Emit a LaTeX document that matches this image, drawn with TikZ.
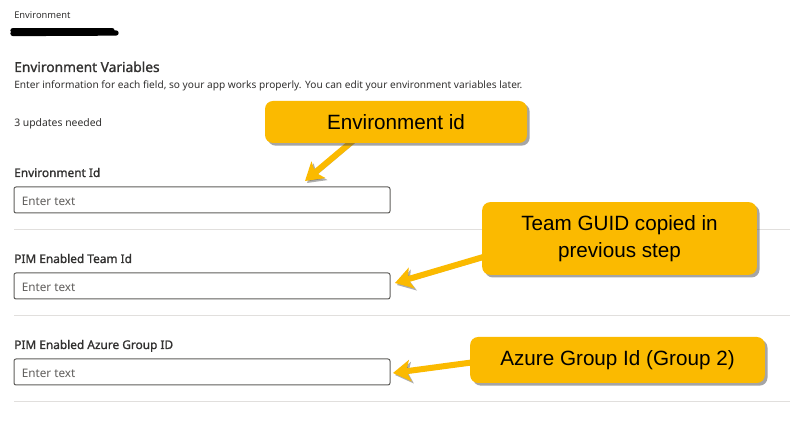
\documentclass[tikz,border=0pt]{standalone}
\usepackage{fontspec}
\setmainfont{Noto Sans}
\newfontfamily\semifont[FakeBold=1.2]{Noto Sans}
\newfontfamily\calloutfont{Liberation Sans}
\usetikzlibrary{positioning,arrows.meta,shadows}
\pgfdeclarelayer{background}
\pgfsetlayers{background,main}

\definecolor{uitext}{HTML}{323130}
\definecolor{uihint}{HTML}{605E5C}
\definecolor{uiborder}{HTML}{605E5C}
\definecolor{uirule}{HTML}{E1DFDD}
\definecolor{calloutfill}{HTML}{FBBA00}

\tikzset{
  uilabel/.style={anchor=base west,inner sep=0pt,text=uitext,font=\fontsize{7.6}{9}\selectfont},
  fieldlabel/.style={uilabel,font=\semifont\fontsize{8.9}{10}\selectfont},
  inputbox/.style={draw=uiborder,line width=0.75pt,rounded corners=1.5pt,minimum width=282pt,minimum height=19.5pt,inner sep=0pt},
  hint/.style={anchor=west,inner sep=0pt,text=uihint,font=\fontsize{8.8}{10}\selectfont},
  callout/.style={fill=calloutfill,rounded corners=6pt,inner sep=0pt,align=center,
    font=\calloutfont\fontsize{15.5}{20}\selectfont,
    drop shadow={shadow xshift=2pt,shadow yshift=-2pt,fill=black!70,opacity=.5}},
  pointer/.style={draw=calloutfill,line width=4.5pt,line cap=round,
    -{Stealth[width=16pt,length=13pt,inset=3pt]},
    preaction={draw=black!70,opacity=.45,transform canvas={shift={(1.5pt,-1.5pt)}},
      -{Stealth[width=16pt,length=13pt,inset=3pt]}}}
}

\begin{document}
\begin{tikzpicture}[x=0.75pt,y=-0.75pt]
\begin{pgfonlayer}{background}
\fill[white] (0,0) rectangle (790,448);
\end{pgfonlayer}
\useasboundingbox (0,0) rectangle (790,448);
% header
\node[uilabel,font=\fontsize{7}{8}\selectfont] (envhead) at (14,19) {Environment};
\draw[line width=4pt,line cap=round] (13,30.5) -- (112,30.5);
\draw[line width=4pt,line cap=round] (13,33.5) -- (116,33);
\node[uilabel,font=\semifont\fontsize{10.3}{12}\selectfont] (vartitle) at (14,72) {Environment Variables};
\node[uilabel] (vardesc) at (14,89) {Enter information for each field, so your app works properly. You can edit your environment variables later.};
\node[uilabel,font=\fontsize{7.8}{9}\selectfont] (updates) at (14,127) {3 updates needed};
% fields
\foreach \y/\txt/\n in {173/Environment Id/envbox,259/PIM Enabled Team Id/teambox,345/PIM Enabled Azure Group ID/groupbox}{
  \node[fieldlabel] (\n lbl) at (14,\y+4) {\txt};
  \node[inputbox] (\n) at (202,\y+27) {};
  \node[hint] (\n hint) at ([xshift=6pt,yshift=-1pt]\n.west) {Enter text};
  \draw[uirule,line width=0.75pt] (14,\y+57) -- (790,\y+57);
}
% callouts
\node[callout,minimum width=196.5pt,minimum height=31.5pt] (envcall) at (396,122) {Environment id};
\node[callout,minimum width=206pt,minimum height=54.5pt] (teamcall) at (619.5,238.5) {Team GUID copied in\\previous step};
\node[callout,minimum width=221pt,minimum height=34.5pt] (groupcall) at (617.5,360) {Azure Group Id (Group 2)};
\coordinate (envtip) at (305,181);
\coordinate (teamtip) at (395,283);
\coordinate (grouptip) at (393,373);
\begin{pgfonlayer}{background}
\draw[pointer] ([xshift=-31pt,yshift=3pt]envcall.south) -- (envtip);
\draw[pointer] ([xshift=4pt,yshift=-13pt]teamcall.west) -- (teamtip);
\draw[pointer] ([xshift=4pt,yshift=-1.5pt]groupcall.west) -- (grouptip);
\end{pgfonlayer}
\end{tikzpicture}
\end{document}
